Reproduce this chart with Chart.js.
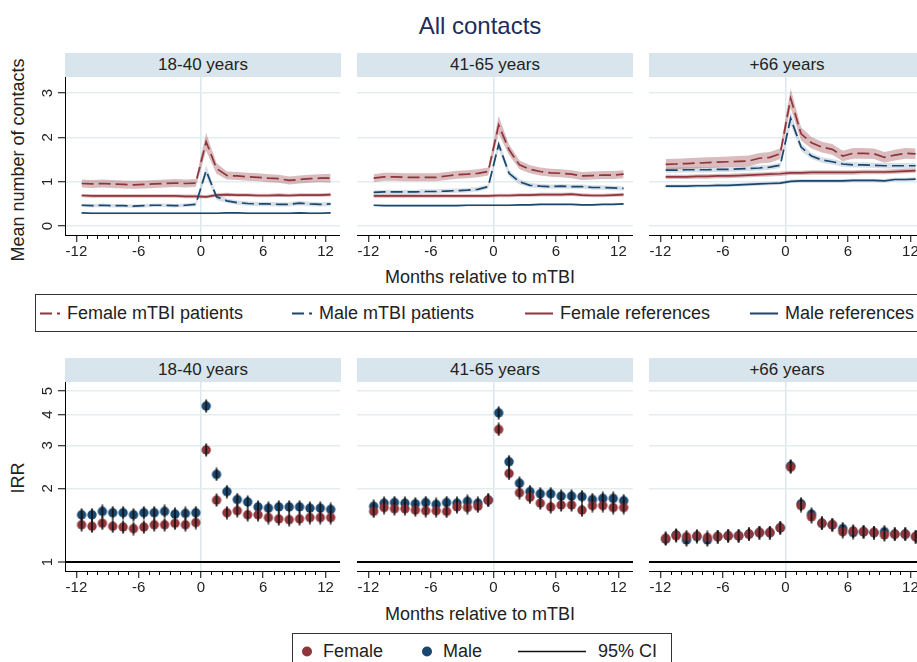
<!DOCTYPE html>
<html>
<head>
<meta charset="utf-8">
<title>All contacts</title>
<script src="https://cdn.jsdelivr.net/npm/chart.js@4.4.1/dist/chart.umd.min.js"></script>
<style>
  body { margin: 0; background: #fff; font-family: "Liberation Sans", Arial, sans-serif; color: #222; }
  #page { position: relative; width: 917px; height: 662px; overflow: hidden; background: #fff; }
  canvas { position: absolute; }
  .txt { position: absolute; white-space: nowrap; transform: translate(-50%, -50%); }
  .rot { transform: translate(-50%, -50%) rotate(-90deg); }
  .strip { position: absolute; height: 24px; line-height: 24px; background: #d9e5ec; text-align: center; font-size: 17px; color: #222; }
  .legend { position: absolute; border: 1px solid #333; background: #fff; }
  .item { position: absolute; white-space: nowrap; font-size: 18px; transform: translateY(-50%); display: flex; align-items: center; }
  .item svg { margin-right: 7px; }
</style>
</head>
<body>
<div id="page">
  <div class="txt" style="left:480px;top:26px;font-size:24px;color:#1c2c5b;">All contacts</div>
  <div class="txt rot" style="left:18px;top:160px;font-size:18px;">Mean number of contacts</div>
  <div class="txt rot" style="left:18px;top:478px;font-size:18px;">IRR</div>
  <div class="txt" style="left:480px;top:277px;font-size:18px;">Months relative to mTBI</div>
  <div class="txt" style="left:480px;top:614px;font-size:18px;">Months relative to mTBI</div>

  <canvas id="top1" width="320" height="184" style="left:20px;top:77px;"></canvas>
  <canvas id="top2" width="276" height="184" style="left:357px;top:77px;"></canvas>
  <canvas id="top3" width="276" height="184" style="left:649px;top:77px;"></canvas>
  <canvas id="bot1" width="320" height="215" style="left:20px;top:382px;"></canvas>
  <canvas id="bot2" width="276" height="215" style="left:357px;top:382px;"></canvas>
  <canvas id="bot3" width="276" height="215" style="left:649px;top:382px;"></canvas>

  <div class="legend" style="left:35px;top:294px;width:920px;height:36px;"></div>
  <div class="item" style="left:40px;top:313px;"><svg width="20" height="4"><line x1="0" y1="2" x2="20" y2="2" stroke="#90353b" stroke-width="2" stroke-dasharray="12 5"/></svg>Female mTBI patients</div>
  <div class="item" style="left:292px;top:313px;"><svg width="20" height="4"><line x1="0" y1="2" x2="20" y2="2" stroke="#1a476f" stroke-width="2" stroke-dasharray="12 5"/></svg>Male mTBI patients</div>
  <div class="item" style="left:525px;top:313px;"><svg width="28" height="4"><line x1="0" y1="2" x2="28" y2="2" stroke="#90353b" stroke-width="2"/></svg>Female references</div>
  <div class="item" style="left:750px;top:313px;"><svg width="28" height="4"><line x1="0" y1="2" x2="28" y2="2" stroke="#1a476f" stroke-width="2"/></svg>Male references</div>

  <div class="legend" style="left:292px;top:633px;width:378px;height:40px;"></div>
  <div class="item" style="left:301px;top:651px;"><svg width="12" height="12" style="margin-right:10px"><circle cx="6" cy="6" r="5" fill="#90353b"/></svg>Female</div>
  <div class="item" style="left:421px;top:651px;"><svg width="12" height="12" style="margin-right:10px"><circle cx="6" cy="6" r="5" fill="#1a476f"/></svg>Male</div>
  <div class="item" style="left:518px;top:651px;"><svg width="68" height="4" style="margin-right:12px"><line x1="0" y1="2" x2="68" y2="2" stroke="#111" stroke-width="1.5"/></svg>95% CI</div>
</div>

<script>
const months = [-11.5, -10.5, -9.5, -8.5, -7.5, -6.5, -5.5, -4.5, -3.5, -2.5, -1.5, -0.5,
    0.5, 1.5, 2.5, 3.5, 4.5, 5.5, 6.5, 7.5, 8.5, 9.5, 10.5, 11.5, 12.5];
const majorTicks = [-12, -6, 0, 6, 12];
const minorTicks = [-11, -10, -9, -8, -7, -5, -4, -3, -2, -1, 1, 2, 3, 4, 5, 7, 8, 9, 10, 11];
const topTicks = [0, 1, 2, 3];
const irrTicks = [1, 2, 3, 4, 5];
const ageGroups = ['18-40 years', '41-65 years', '+66 years'];

// mean number of contacts, 18-40 years
const femMtbi1 = [0.96, 0.95, 0.96, 0.95, 0.94, 0.93, 0.94, 0.95, 0.96, 0.97, 0.96, 0.97,
    1.90, 1.30, 1.14, 1.13, 1.11, 1.10, 1.08, 1.07, 1.03, 1.05, 1.07, 1.08, 1.08];
const maleMtbi1 = [0.47, 0.46, 0.47, 0.46, 0.46, 0.45, 0.46, 0.47, 0.47, 0.46, 0.47, 0.49,
    1.25, 0.66, 0.57, 0.53, 0.51, 0.50, 0.50, 0.49, 0.49, 0.52, 0.50, 0.49, 0.50];
const femRef1 = [0.69, 0.68, 0.68, 0.68, 0.68, 0.68, 0.68, 0.68, 0.68, 0.68, 0.67, 0.67,
    0.66, 0.70, 0.71, 0.70, 0.70, 0.69, 0.69, 0.70, 0.69, 0.70, 0.70, 0.70, 0.71];
const maleRef1 = [0.30, 0.29, 0.29, 0.29, 0.29, 0.29, 0.29, 0.29, 0.29, 0.29, 0.29, 0.29,
    0.29, 0.29, 0.30, 0.30, 0.29, 0.29, 0.29, 0.29, 0.29, 0.30, 0.29, 0.29, 0.30];
// CI half widths
const femMtbiCi1 = [0.09, 0.09, 0.09, 0.09, 0.09, 0.09, 0.09, 0.09, 0.09, 0.09, 0.09, 0.09,
    0.20, 0.12, 0.09, 0.09, 0.09, 0.09, 0.09, 0.09, 0.09, 0.09, 0.09, 0.09, 0.10];
const maleMtbiCi1 = [0.04, 0.04, 0.04, 0.04, 0.04, 0.04, 0.04, 0.04, 0.04, 0.04, 0.04, 0.04,
    0.13, 0.07, 0.05, 0.05, 0.05, 0.05, 0.05, 0.05, 0.05, 0.05, 0.05, 0.05, 0.05];
const femRefCi1 = [0.04, 0.04, 0.04, 0.04, 0.04, 0.04, 0.04, 0.04, 0.04, 0.04, 0.04, 0.04,
    0.04, 0.04, 0.04, 0.04, 0.04, 0.04, 0.04, 0.04, 0.04, 0.04, 0.04, 0.04, 0.04];
const maleRefCi1 = [0.02, 0.02, 0.02, 0.02, 0.02, 0.02, 0.02, 0.02, 0.02, 0.02, 0.02, 0.02,
    0.02, 0.02, 0.02, 0.02, 0.02, 0.02, 0.02, 0.02, 0.02, 0.02, 0.02, 0.02, 0.02];

// 41-65 years
const femMtbi2 = [1.08, 1.11, 1.11, 1.10, 1.10, 1.10, 1.10, 1.13, 1.16, 1.17, 1.19, 1.23,
    2.28, 1.72, 1.38, 1.28, 1.23, 1.20, 1.19, 1.17, 1.13, 1.14, 1.15, 1.15, 1.17];
const maleMtbi2 = [0.76, 0.77, 0.77, 0.77, 0.77, 0.78, 0.78, 0.79, 0.80, 0.81, 0.83, 0.89,
    1.84, 1.19, 1.00, 0.92, 0.90, 0.89, 0.90, 0.89, 0.89, 0.87, 0.87, 0.86, 0.85];
const femRef2 = [0.68, 0.68, 0.68, 0.68, 0.68, 0.68, 0.68, 0.68, 0.68, 0.68, 0.68, 0.68,
    0.69, 0.69, 0.70, 0.70, 0.71, 0.71, 0.71, 0.72, 0.70, 0.69, 0.69, 0.70, 0.71];
const maleRef2 = [0.47, 0.46, 0.46, 0.46, 0.46, 0.46, 0.46, 0.46, 0.46, 0.47, 0.47, 0.47,
    0.47, 0.47, 0.48, 0.48, 0.49, 0.49, 0.49, 0.49, 0.48, 0.48, 0.49, 0.49, 0.50];
const femMtbiCi2 = [0.09, 0.09, 0.09, 0.09, 0.09, 0.09, 0.09, 0.09, 0.09, 0.09, 0.09, 0.09,
    0.20, 0.12, 0.10, 0.09, 0.09, 0.09, 0.09, 0.09, 0.09, 0.09, 0.09, 0.09, 0.09];
const maleMtbiCi2 = [0.05, 0.05, 0.05, 0.05, 0.05, 0.05, 0.05, 0.05, 0.05, 0.05, 0.05, 0.05,
    0.12, 0.08, 0.06, 0.05, 0.05, 0.05, 0.05, 0.05, 0.05, 0.05, 0.05, 0.05, 0.05];
const femRefCi2 = [0.04, 0.04, 0.04, 0.04, 0.04, 0.04, 0.04, 0.04, 0.04, 0.04, 0.04, 0.04,
    0.04, 0.04, 0.04, 0.04, 0.04, 0.04, 0.04, 0.04, 0.04, 0.04, 0.04, 0.04, 0.04];
const maleRefCi2 = [0.02, 0.02, 0.02, 0.02, 0.02, 0.02, 0.02, 0.02, 0.02, 0.02, 0.02, 0.02,
    0.02, 0.02, 0.02, 0.02, 0.02, 0.02, 0.02, 0.02, 0.02, 0.02, 0.02, 0.02, 0.02];

// +66 years
const femMtbi3 = [1.39, 1.40, 1.41, 1.42, 1.43, 1.44, 1.45, 1.46, 1.47, 1.53, 1.55, 1.63,
    2.88, 2.08, 1.88, 1.78, 1.73, 1.58, 1.64, 1.64, 1.63, 1.55, 1.60, 1.64, 1.63];
const maleMtbi3 = [1.26, 1.26, 1.27, 1.27, 1.27, 1.28, 1.28, 1.29, 1.30, 1.31, 1.33, 1.37,
    2.43, 1.78, 1.58, 1.49, 1.45, 1.40, 1.38, 1.38, 1.37, 1.36, 1.36, 1.36, 1.36];
const femRef3 = [1.11, 1.11, 1.11, 1.12, 1.12, 1.13, 1.13, 1.14, 1.15, 1.16, 1.17, 1.18,
    1.20, 1.20, 1.21, 1.21, 1.21, 1.21, 1.21, 1.22, 1.22, 1.22, 1.23, 1.24, 1.25];
const maleRef3 = [0.90, 0.90, 0.90, 0.91, 0.91, 0.92, 0.92, 0.93, 0.94, 0.95, 0.96, 0.97,
    1.01, 1.02, 1.02, 1.02, 1.02, 1.02, 1.03, 1.03, 1.03, 1.02, 1.05, 1.05, 1.06];
const femMtbiCi3 = [0.12, 0.12, 0.12, 0.12, 0.12, 0.12, 0.12, 0.12, 0.12, 0.12, 0.12, 0.12,
    0.22, 0.15, 0.13, 0.12, 0.12, 0.12, 0.12, 0.12, 0.12, 0.12, 0.12, 0.12, 0.12];
const maleMtbiCi3 = [0.06, 0.06, 0.06, 0.06, 0.06, 0.06, 0.06, 0.06, 0.06, 0.06, 0.06, 0.06,
    0.15, 0.09, 0.07, 0.06, 0.06, 0.06, 0.06, 0.06, 0.06, 0.06, 0.06, 0.06, 0.06];
const femRefCi3 = [0.05, 0.05, 0.05, 0.05, 0.05, 0.05, 0.05, 0.05, 0.05, 0.05, 0.05, 0.05,
    0.05, 0.05, 0.05, 0.05, 0.05, 0.05, 0.05, 0.05, 0.05, 0.05, 0.05, 0.05, 0.05];
const maleRefCi3 = [0.04, 0.04, 0.04, 0.04, 0.04, 0.04, 0.04, 0.04, 0.04, 0.04, 0.04, 0.04,
    0.04, 0.04, 0.04, 0.04, 0.04, 0.04, 0.04, 0.04, 0.04, 0.04, 0.04, 0.04, 0.04];

// IRR
const femIrr1 = [1.42, 1.40, 1.44, 1.40, 1.39, 1.37, 1.39, 1.42, 1.42, 1.44, 1.42, 1.45,
    2.87, 1.79, 1.59, 1.62, 1.56, 1.56, 1.52, 1.50, 1.49, 1.50, 1.52, 1.52, 1.52];
const maleIrr1 = [1.56, 1.56, 1.61, 1.59, 1.59, 1.56, 1.59, 1.59, 1.61, 1.57, 1.58, 1.59,
    4.34, 2.28, 1.94, 1.80, 1.76, 1.68, 1.66, 1.68, 1.68, 1.68, 1.66, 1.66, 1.64];
const femIrr2 = [1.61, 1.67, 1.65, 1.65, 1.63, 1.62, 1.62, 1.61, 1.68, 1.67, 1.69, 1.79,
    3.48, 2.30, 1.92, 1.84, 1.74, 1.68, 1.71, 1.71, 1.63, 1.70, 1.70, 1.67, 1.67];
const maleIrr2 = [1.69, 1.74, 1.75, 1.74, 1.73, 1.75, 1.72, 1.75, 1.74, 1.77, 1.74, 1.79,
    4.07, 2.57, 2.10, 1.94, 1.90, 1.90, 1.86, 1.86, 1.85, 1.80, 1.82, 1.82, 1.78];
const femIrr3 = [1.25, 1.28, 1.27, 1.28, 1.26, 1.27, 1.28, 1.28, 1.30, 1.32, 1.32, 1.38,
    2.44, 1.70, 1.53, 1.44, 1.42, 1.33, 1.34, 1.33, 1.32, 1.29, 1.30, 1.30, 1.27];
const maleIrr3 = [1.24, 1.29, 1.23, 1.27, 1.23, 1.27, 1.28, 1.28, 1.30, 1.32, 1.32, 1.38,
    2.47, 1.73, 1.57, 1.44, 1.42, 1.37, 1.32, 1.33, 1.32, 1.33, 1.30, 1.30, 1.27];

const red = '#90353b';
const blue = '#1a476f';
const redBand = 'rgba(144, 53, 59, 0.33)';
const blueBand = 'rgba(26, 71, 111, 0.17)';
const gridColor = '#e3edf0';

Chart.defaults.font.family = '"Liberation Sans", Arial, Helvetica, sans-serif';
Chart.defaults.font.size = 15;
Chart.defaults.color = '#222';

// strip headers
const page = document.getElementById('page');
const stripLeft = [65, 357, 649];
[53, 358].forEach(top => {
    ageGroups.forEach((g, i) => {
        const d = document.createElement('div');
        d.className = 'strip';
        d.style.left = stripLeft[i] + 'px';
        d.style.top = top + 'px';
        d.style.width = '276px';
        d.textContent = g;
        page.appendChild(d);
    });
});

// minor x ticks and rotated y labels
const axisExtras = {
    id: 'axisExtras',
    afterDraw(chart, args, opts) {
        const ctx = chart.ctx;
        const x = chart.scales.x;
        const y = chart.scales.y;
        ctx.save();
        ctx.strokeStyle = '#000';
        ctx.lineWidth = 1;
        minorTicks.forEach(v => {
            const px = Math.round(x.getPixelForValue(v)) + 0.5;
            ctx.beginPath();
            ctx.moveTo(px, x.top);
            ctx.lineTo(px, x.top + 4);
            ctx.stroke();
        });
        if (opts.labelX) {
            ctx.fillStyle = '#222';
            ctx.font = '15px "Liberation Sans", Arial, sans-serif';
            ctx.textAlign = 'center';
            ctx.textBaseline = 'middle';
            y.ticks.forEach(t => {
                ctx.save();
                ctx.translate(opts.labelX, y.getPixelForValue(t.value));
                ctx.rotate(-Math.PI / 2);
                ctx.fillText(String(t.value), 0, 0);
                ctx.restore();
            });
        }
        ctx.restore();
    }
};

function xScale() {
    return {
        type: 'linear',
        min: -13.1,
        max: 13.4,
        afterBuildTicks: s => { s.ticks = majorTicks.map(v => ({ value: v })); },
        afterFit: s => { s.height = 26; s.paddingLeft = 0; s.paddingRight = 0; },
        ticks: { callback: v => String(v), padding: 1, maxRotation: 0, autoSkip: false },
        grid: {
            color: c => (c.tick && c.tick.value === 0) ? '#dbe8ec' : 'rgba(0,0,0,0)',
            lineWidth: 1.5,
            tickLength: 7,
            tickColor: '#000',
            tickWidth: 1
        },
        border: { display: true, color: '#000', width: 1 }
    };
}

function yScale(showAxis, log) {
    return {
        type: log ? 'logarithmic' : 'linear',
        min: log ? 0.919 : -0.2,
        max: log ? 5.44 : 3.36,
        afterBuildTicks: s => { s.ticks = (log ? irrTicks : topTicks).map(v => ({ value: v })); },
        afterFit: s => { s.width = showAxis ? 45 : 0; s.paddingTop = 0; s.paddingBottom = 0; },
        ticks: { display: false },
        grid: {
            color: c => (log && c.tick && c.tick.value === 1) ? '#000' : gridColor,
            lineWidth: c => (log && c.tick && c.tick.value === 1) ? 2 : 1.5,
            drawTicks: showAxis,
            tickLength: 7,
            tickColor: '#000',
            tickWidth: 1
        },
        border: { display: showAxis, color: '#000', width: 1 }
    };
}

function bandAndLine(mean, ci, color, band, dash) {
    const lo = months.map((m, i) => ({ x: m, y: mean[i] - ci[i] }));
    const hi = months.map((m, i) => ({ x: m, y: mean[i] + ci[i] }));
    const mid = months.map((m, i) => ({ x: m, y: mean[i] }));
    return [
        { data: lo, borderWidth: 0, pointRadius: 0, fill: false, order: 2 },
        { data: hi, borderWidth: 0, pointRadius: 0, fill: '-1', backgroundColor: band, order: 2 },
        { data: mid, borderColor: color, borderWidth: 1.7, borderDash: dash, pointRadius: 0, fill: false, order: 1 }
    ];
}

function ciDot(color) {
    const c = document.createElement('canvas');
    c.width = 12;
    c.height = 14;
    const g = c.getContext('2d');
    g.fillStyle = color;
    g.beginPath();
    g.arc(6, 7, 4.7, 0, Math.PI * 2);
    g.fill();
    g.strokeStyle = '#111';
    g.lineWidth = 1.6;
    g.beginPath();
    g.moveTo(6, 0.5);
    g.lineTo(6, 13.5);
    g.stroke();
    return c;
}
const femaleDot = ciDot(red);
const maleDot = ciDot(blue);

function baseOptions(yOpts, labelX) {
    return {
        responsive: false,
        animation: false,
        layout: { padding: 0, autoPadding: false },
        plugins: { legend: { display: false }, tooltip: { enabled: false }, axisExtras: { labelX: labelX } },
        scales: { x: xScale(), y: yOpts }
    };
}

function topChart(id, fm, fmCi, mm, mmCi, fr, frCi, mr, mrCi, first) {
    const datasets = [].concat(
        bandAndLine(fm, fmCi, red, redBand, [12, 5]),
        bandAndLine(mm, mmCi, blue, blueBand, [12, 5]),
        bandAndLine(fr, frCi, red, redBand, []),
        bandAndLine(mr, mrCi, blue, blueBand, [])
    );
    return new Chart(document.getElementById(id), {
        type: 'line',
        data: { datasets: datasets },
        options: baseOptions(yScale(first, false), first ? 28 : null),
        plugins: [axisExtras]
    });
}

function irrChart(id, fem, male, first) {
    return new Chart(document.getElementById(id), {
        type: 'scatter',
        data: {
            datasets: [
                { data: months.map((m, i) => ({ x: m, y: fem[i] })), pointStyle: femaleDot, pointRadius: 5 },
                { data: months.map((m, i) => ({ x: m, y: male[i] })), pointStyle: maleDot, pointRadius: 5 }
            ]
        },
        options: baseOptions(yScale(first, true), first ? 28 : null),
        plugins: [axisExtras]
    });
}

topChart('top1', femMtbi1, femMtbiCi1, maleMtbi1, maleMtbiCi1, femRef1, femRefCi1, maleRef1, maleRefCi1, true);
topChart('top2', femMtbi2, femMtbiCi2, maleMtbi2, maleMtbiCi2, femRef2, femRefCi2, maleRef2, maleRefCi2, false);
topChart('top3', femMtbi3, femMtbiCi3, maleMtbi3, maleMtbiCi3, femRef3, femRefCi3, maleRef3, maleRefCi3, false);

irrChart('bot1', femIrr1, maleIrr1, true);
irrChart('bot2', femIrr2, maleIrr2, false);
irrChart('bot3', femIrr3, maleIrr3, false);
</script>
</body>
</html>
